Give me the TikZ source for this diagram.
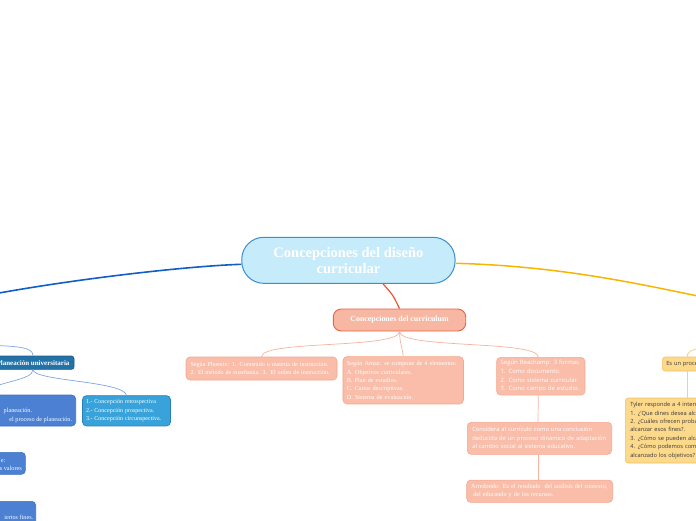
\documentclass[tikz,border=0pt]{standalone}
\usepackage{fontspec}
\setmainfont{Liberation Serif}
\newfontfamily\sansf{Open Sans}
\definecolor{cenfill}{HTML}{C6ECFB}
\definecolor{cenline}{HTML}{3A8ED4}
\definecolor{mainblue}{HTML}{0F5FC6}
\definecolor{mainorange}{HTML}{F7B500}
\definecolor{redline}{HTML}{E8552E}
\definecolor{salfill}{HTML}{F8B7A3}
\definecolor{salline}{HTML}{EA6340}
\definecolor{chfill}{HTML}{F9BDA9}
\definecolor{chline}{HTML}{F5A78E}
\definecolor{chconn}{HTML}{F5B2A0}
\definecolor{puline}{HTML}{1E5C8A}
\definecolor{pufill}{HTML}{2272A8}
\definecolor{bfill}{HTML}{4B80D3}
\definecolor{bline}{HTML}{3F70C0}
\definecolor{cfill}{HTML}{38A3DA}
\definecolor{cline}{HTML}{2A7FB8}
\definecolor{lbline}{HTML}{7EA6E0}
\definecolor{yfill}{HTML}{FCD98B}
\definecolor{yline}{HTML}{F3C260}
\definecolor{yconn}{HTML}{F8D27A}
\definecolor{ytext}{HTML}{3A3A3A}
\begin{document}
\begin{tikzpicture}[x=1pt,y=-1pt,
  centr/.style={draw=cenline, fill=cenfill, line width=1pt, rounded corners=22pt,
    minimum width=213.3pt, minimum height=46pt, inner sep=0pt, text=white,
    font=\fontsize{14.5}{16.3}\selectfont\bfseries, align=center},
  curbox/.style={draw=salline, fill=salfill, line width=0.9pt, rounded corners=8pt,
    minimum width=132.4pt, minimum height=22pt, inner sep=0pt, text=white,
    font=\fontsize{7.9}{9}\selectfont\bfseries},
  chbox/.style={draw=chline, fill=chfill, line width=0.6pt, rounded corners=4pt,
    inner ysep=0pt, text=white, align=left},
  serift/.style={font=\fontsize{6.2}{8.4}\selectfont},
  sanst/.style={font=\sansf\fontsize{5.8}{8.5}\selectfont},
  conn/.style={draw=chconn, line width=0.7pt},
  pubox/.style={draw=puline, fill=pufill, line width=0.7pt, rounded corners=2.5pt,
    minimum width=82pt, minimum height=13.3pt, inner sep=0pt, text=white,
    font=\fontsize{7}{8}\selectfont\bfseries},
  bbox/.style={draw=bline, fill=bfill, line width=0.6pt, rounded corners=4pt, inner sep=0pt},
  cbox/.style={draw=cline, fill=cfill, line width=0.7pt, rounded corners=4pt,
    inner ysep=0pt, inner xsep=3.5pt, text=white, align=left,
    font=\fontsize{6}{8.4}\selectfont},
  btext/.style={text=white, inner sep=0pt, font=\fontsize{6.2}{8.4}\selectfont},
  lbconn/.style={draw=lbline, line width=0.7pt},
  ybox/.style={draw=yline, fill=yfill, line width=0.6pt, rounded corners=3pt,
    inner ysep=0pt, inner xsep=4pt, text=ytext, align=left,
    font=\sansf\fontsize{5.7}{8.4}\selectfont},
  yconnst/.style={draw=yconn, line width=0.8pt}
]
\useasboundingbox (0,0) rectangle (696,520);

% main connectors
\coordinate (bl) at (-12,295);
\coordinate (orr) at (712,299);
\node[centr] (cen) at (348.4,260.3) {Concepciones del diseño\\curricular};
\draw[mainblue, line width=1.6pt] ([yshift=-4pt]cen.west) .. controls (190,266) and (80,278) .. (bl);
\draw[mainorange, line width=1.5pt] ([yshift=-3pt]cen.east) .. controls (560,266) and (640,284) .. (orr);

% curriculum branch
\node[curbox] (cur) at (399.5,320) {Concepciones del curriculum};
\draw[redline, line width=1.2pt] ([xshift=34.6pt]cen.south) .. controls (393,295) .. (cur.north);

\node[chbox, font=\fontsize{6.05}{8.4}\selectfont, inner xsep=4.5pt, text width=142pt, minimum height=23pt] (phx) at (261.5,368.5)
  {Según Phoenix: 1. Contenido o materia de instrucción.\\2. El método de enseñanza. 3. El orden de instrucción.};
\node[chbox, serift, inner xsep=4pt, text width=112.5pt, minimum height=47.3pt] (arn) at (403.2,380.3)
  {Según Arnaz: se compone de 4 elementos:\\A. Objetivos curriculares.\\B. Plan de estudios.\\C. Cartas descriptivas.\\D. Sistema de evaluación.};
\node[chbox, font=\sansf\fontsize{5.95}{8.6}\selectfont, inner xsep=4pt, text width=80.3pt, minimum height=37.7pt] (bch) at (540.8,376.2)
  {Según Beachamp: 3 formas\\1. Como documento.\\2. Como sistema curricular.\\3. Como campo de estudio.};
\node[chbox, sanst, inner xsep=5pt, text width=134.4pt, minimum height=32pt] (con) at (539.5,438.3)
  {Considera al currículo como una conclusión\\deducida de un proceso dinámico de adaptación\\al cambio social al sistema educativo.};
\node[chbox, serift, inner xsep=4.5pt, text width=137pt, minimum height=22.3pt] (arr) at (539.7,491.2)
  {Arredondo: Es el resultado\ \ del análisis del contexto,\\\ del educando y de los recursos.};

\draw[conn] (cur.south) .. controls (399.5,349) and (262,340) .. (phx.north);
\draw[conn] (cur.south) .. controls (400,345) and (402,345) .. (arn.north);
\draw[conn] (cur.south) .. controls (399.5,349) and (538,340) .. ([xshift=-2.5pt]bch.north);
\draw[conn] ([xshift=-2.5pt]bch.south) -- ([xshift=-1.5pt]con.north);
\draw[conn] ([xshift=-1.5pt]con.south) -- ([xshift=-1.7pt]arr.north);

% left branch
\coordinate (lt) at (-20,345);
\coordinate (lleft) at (-25,396);
\node[pubox] (pu) at (33,362.7) {Planeación universitaria};
\draw[lbconn] (lt) .. controls (18,346) and (33,347) .. (pu.north);
\node[bbox, minimum width=130pt, minimum height=31pt, anchor=east] (lb) at (76,410.5) {};
\node[btext, anchor=base east] (lb1) at (32.3,412.8) {planeación.};
\node[btext, anchor=base east] (lb2) at (72.3,421.1) {el proceso de planeación.};
\node[cbox, text width=81pt, minimum height=30.3pt] (cb) at (126.5,410.8)
  {1.- Concepción retrospectiva\\2.- Concepción prospectiva.\\3.- Concepción circunspectiva.};
\draw[lbconn] (pu.south) .. controls (33,381) and (124,381) .. (cb.north);
\draw[lbconn] (pu.south) .. controls (33,381) and (-5,381) .. (lleft);

\node[bbox, minimum width=90pt, minimum height=22pt, anchor=east] (vb) at (25.7,463.3) {};
\node[btext, anchor=base east] (vb1) at (5.6,462.1) {e:};
\node[btext, anchor=base east] (vb2) at (22,470.4) {s valores};

\node[bbox, minimum width=90pt, minimum height=30pt, anchor=north east] (fb) at (36,501) {};
\node[btext, anchor=base east] (fb1) at (33.5,519) {iertos fines.};

% right branch
\coordinate (yt) at (712,346);
\node[ybox, text width=42pt, minimum height=14pt, anchor=west] (es) at (662,364) {Es un proceso};
\draw[yconnst] (yt) .. controls (695,349) and (687,350) .. (es.north);
\node[ybox, inner xsep=5pt, text width=150pt, minimum height=65pt, anchor=north west] (tyl) at (625,397.7)
  {Tyler responde a 4 interrogantes:\\1. ¿'Que dines desea alcanzar la escuela?\\2. ¿Cuáles ofrecen probabilidades de\\alcanzar esos fines?.\\3. ¿Cómo se pueden alcanzar esos fines?\\4. ¿Cómo podemos comprobar que se han\\alcanzado los objetivos?};
\draw[yconnst] (es.south) -- (es.south |- tyl.north);
\end{tikzpicture}
\end{document}
